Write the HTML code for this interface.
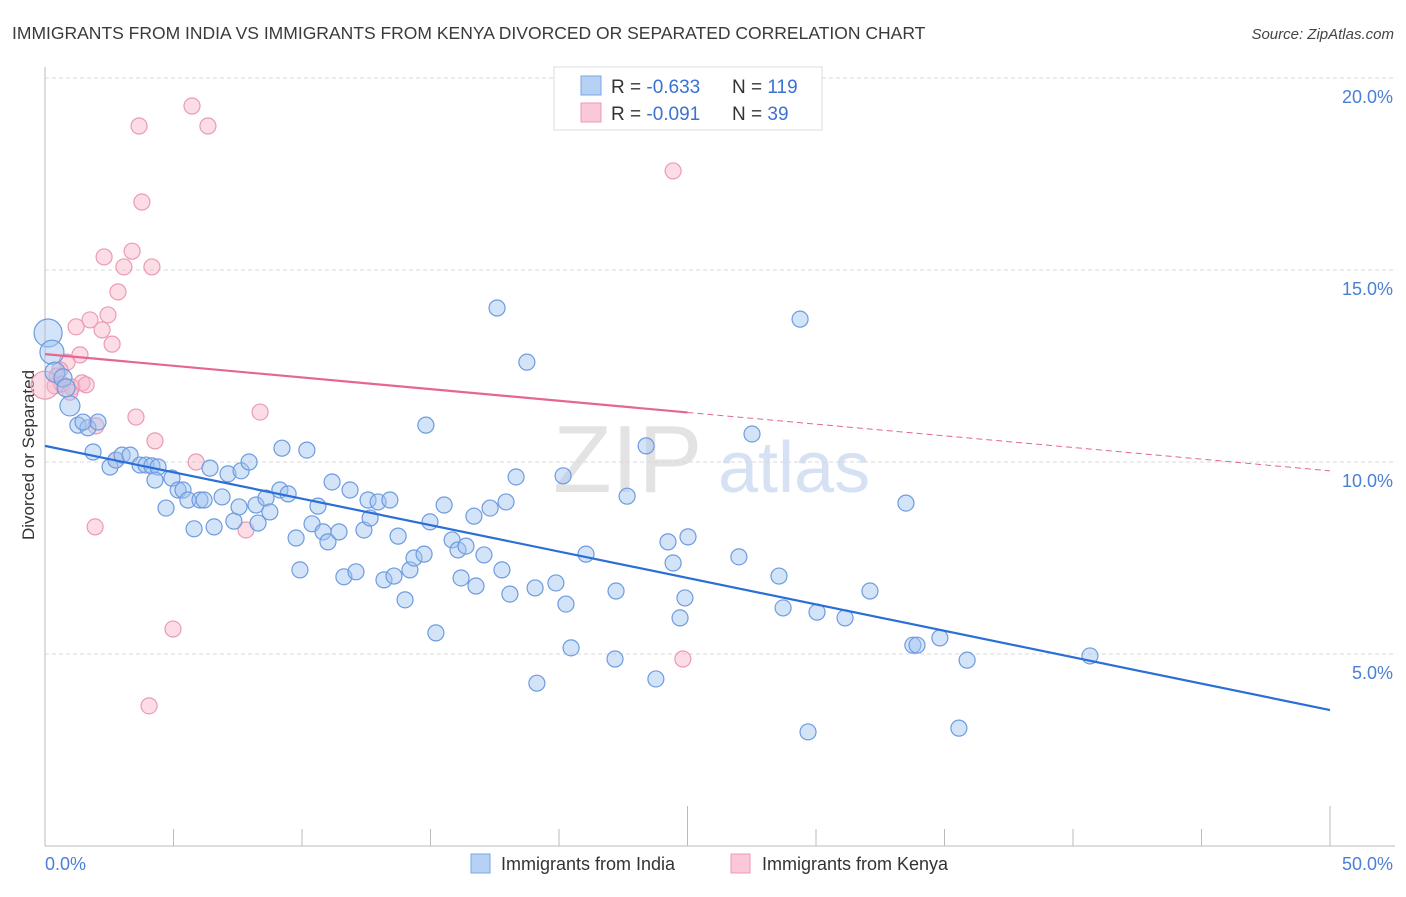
<!DOCTYPE html>
<html><head><meta charset="utf-8"><style>
body{margin:0;background:#fff;}
svg text{font-family:"Liberation Sans",sans-serif;}
</style></head><body>
<svg id="chart" width="1406" height="892" xmlns="http://www.w3.org/2000/svg">
<text x="12" y="39" font-size="17.5" fill="#3a3a3a">IMMIGRANTS FROM INDIA VS IMMIGRANTS FROM KENYA DIVORCED OR SEPARATED CORRELATION CHART</text>
<text x="1394" y="39" font-size="15" fill="#444" font-style="italic" text-anchor="end">Source: ZipAtlas.com</text>
<g>
<text x="553" y="492" font-size="96" fill="#e3e3e3" font-family="Liberation Serif,serif">ZIP</text>
<text x="718" y="492" font-size="72" fill="#d6e2f3">atlas</text>
</g>
<g id="grid"></g>
<g id="axes"></g>
<text transform="translate(34,455) rotate(-90)" font-size="17" fill="#333" text-anchor="middle">Divorced or Separated</text>
<g id="marks"></g>
<g>
<rect x="554" y="67" width="268" height="63" fill="#fff" stroke="#ddd"/>
<rect x="581" y="76" width="20" height="19" fill="#b7d1f5" stroke="#7aa5e6"/>
<rect x="581" y="103" width="20" height="19" fill="#fac8d6" stroke="#ee9ab4"/>
<text x="611" y="93" font-size="19" fill="#333">R = <tspan fill="#3a72d4">-0.633</tspan></text>
<text x="732" y="93" font-size="19" fill="#333">N = <tspan fill="#3a72d4">119</tspan></text>
<text x="611" y="120" font-size="19" fill="#333">R = <tspan fill="#3a72d4">-0.091</tspan></text>
<text x="732" y="120" font-size="19" fill="#333">N = <tspan fill="#3a72d4"> 39</tspan></text>
</g>
<g>
<rect x="471" y="854" width="19" height="19" fill="#b7d1f5" stroke="#7aa5e6"/>
<text x="501" y="870" font-size="18" fill="#333">Immigrants from India</text>
<rect x="731" y="854" width="19" height="19" fill="#fac8d6" stroke="#ee9ab4"/>
<text x="762" y="870" font-size="18" fill="#333">Immigrants from Kenya</text>
</g>
</svg>
<script>
const yTicks=[5,10,15,20];
const yTickLabels=["5.0%","10.0%","15.0%","20.0%"];
const xTickLabels=["0.0%","50.0%"];
const indiaX=[0.12,0.27,0.39,0.70,0.82,0.97,1.28,1.67,2.06,1.48,1.87,2.53,2.76,3.00,3.31,3.70,3.93,4.16,4.40,4.28,4.94,5.18,5.37,5.56,6.03,6.19,6.42,4.71,5.80,6.58,6.89,7.12,7.35,7.63,7.94,7.55,8.21,8.29,8.60,8.75,9.22,9.14,9.46,9.77,9.92,10.19,10.39,10.62,10.82,11.01,11.17,11.44,11.63,11.87,12.10,12.41,12.57,12.65,12.96,13.19,13.42,13.58,13.74,14.01,14.20,14.36,14.75,14.82,14.98,15.21,15.53,15.84,16.07,16.19,16.38,16.69,16.77,17.08,17.32,17.59,17.78,17.94,18.09,18.33,18.75,19.07,19.14,19.88,20.16,20.27,20.47,21.05,22.18,22.22,22.65,23.39,23.77,24.24,24.44,24.71,24.90,25.02,27.00,27.51,28.56,28.72,29.38,29.69,30.04,31.13,32.10,33.50,33.77,33.93,34.82,35.56,35.88,40.66];
const indiaY=[13.36,12.86,12.34,12.19,11.93,11.46,10.96,10.89,11.04,11.04,10.26,9.87,10.05,10.18,10.18,9.92,9.92,9.90,9.87,9.53,9.58,9.27,9.27,9.01,9.01,9.01,9.84,8.80,8.26,8.31,9.09,9.69,8.46,9.77,10.00,8.83,8.88,8.41,9.06,8.70,10.36,9.27,9.17,8.02,7.19,10.31,8.39,8.85,8.18,7.92,9.48,8.18,7.01,9.27,7.14,8.23,9.01,8.54,8.96,6.93,9.01,7.03,8.07,6.41,7.19,7.50,7.60,10.96,8.44,5.55,8.88,7.97,7.71,6.98,7.81,8.59,6.77,7.58,8.80,14.01,7.19,8.96,6.56,9.61,12.60,6.72,4.24,6.85,9.64,6.30,5.16,7.60,4.87,6.64,9.11,10.42,4.35,7.92,7.37,5.94,6.46,8.05,7.53,10.73,7.03,6.20,13.72,2.97,6.09,5.94,6.64,8.93,5.23,5.23,5.42,3.07,4.84,4.95];
const indiaSize=[14,12,10,9,9,10];
const kenyaX=[5.72,3.66,6.34,3.77,24.44,2.30,3.07,3.39,4.16,2.84,1.75,1.21,2.45,2.61,2.22,1.36,0.86,0.58,0.47,0.39,0.66,1.05,1.44,1.60,0.97,1.98,3.54,4.28,8.37,5.88,7.82,1.95,4.98,4.05,24.82,2.76,0.0];
const kenyaY=[19.27,18.75,18.75,16.77,17.58,15.34,15.08,15.49,15.08,14.43,13.70,13.52,13.83,13.07,13.44,12.79,12.60,12.40,12.24,11.98,12.03,11.95,12.06,12.01,11.82,10.94,11.17,10.55,11.30,10.00,8.23,8.31,5.65,3.65,4.87,10.05,12.0];
const kenyaSize={36:14};
const indiaTrend=[10.42,3.54];
const kenyaTrend=[12.81,9.77];
const kenyaSolidEnd=25;

const X0=45,X1=1330,Y0=846,PPY=38.4;
const xs=v=>X0+(X1-X0)*v/50;
const ys=v=>Y0-v*PPY;
const NS="http://www.w3.org/2000/svg";
function mk(tag,attrs,parent){const e=document.createElementNS(NS,tag);for(const k in attrs)e.setAttribute(k,attrs[k]);document.getElementById(parent).appendChild(e);return e;}

yTicks.forEach((t,i)=>{
  const l=mk('line',{x1:X0,x2:1393,y1:ys(t),y2:ys(t),stroke:'#d8d8d8','stroke-dasharray':'4,3'},'grid');
  
  
  const tx=mk('text',{x:1393,y:ys(t)+25,'font-size':18,fill:'#4a7fd4','text-anchor':'end'},'grid');
  tx.textContent=yTickLabels[i];
  
  
});
{const e=mk('line',{x1:X0,x2:X0,y1:67,y2:Y0,stroke:'#bbb'},'axes');}
{const e=mk('line',{x1:X0,x2:1395,y1:Y0,y2:Y0,stroke:'#bbb'},'axes');}
for(let i=0;i<=10;i++){
  const v=i*5;const major=(i==5||i==10);
  const e=mk('line',{x1:xs(v),x2:xs(v),y1:major?806:829,y2:Y0,stroke:'#bbb'},'axes');
  
  
}
{const t=mk('text',{x:X0,y:870,'font-size':18,fill:'#4a7fd4'},'axes');t.textContent=xTickLabels[0];}
{const t=mk('text',{x:1393,y:870,'font-size':18,fill:'#4a7fd4','text-anchor':'end'},'axes');t.textContent=xTickLabels[1];}

kenyaX.forEach((v,i)=>{
  const c=mk('circle',{cx:xs(v),cy:ys(kenyaY[i]),r:kenyaSize[i]||8,fill:'rgba(248,180,200,0.45)',stroke:'#eb9ab4','stroke-width':1.2},'marks');
  
  
});
indiaX.forEach((v,i)=>{
  const c=mk('circle',{cx:xs(v),cy:ys(indiaY[i]),r:indiaSize[i]||8,fill:'rgba(160,195,240,0.45)',stroke:'#6d9be0','stroke-width':1.2},'marks');
  
  
});
const kAt=x=>kenyaTrend[0]+(kenyaTrend[1]-kenyaTrend[0])*x/50;
{const e=mk('line',{x1:xs(0),y1:ys(kenyaTrend[0]),x2:xs(kenyaSolidEnd),y2:ys(kAt(kenyaSolidEnd)),stroke:'#e56690','stroke-width':2.2},'marks');}
{const e=mk('line',{x1:xs(kenyaSolidEnd),y1:ys(kAt(kenyaSolidEnd)),x2:xs(50),y2:ys(kenyaTrend[1]),stroke:'#e56690','stroke-width':1,'stroke-dasharray':'6,4'},'marks');}
{const e=mk('line',{x1:xs(0),y1:ys(indiaTrend[0]),x2:xs(50),y2:ys(indiaTrend[1]),stroke:'#2a6fd6','stroke-width':2.2},'marks');}
</script>
</body></html>
